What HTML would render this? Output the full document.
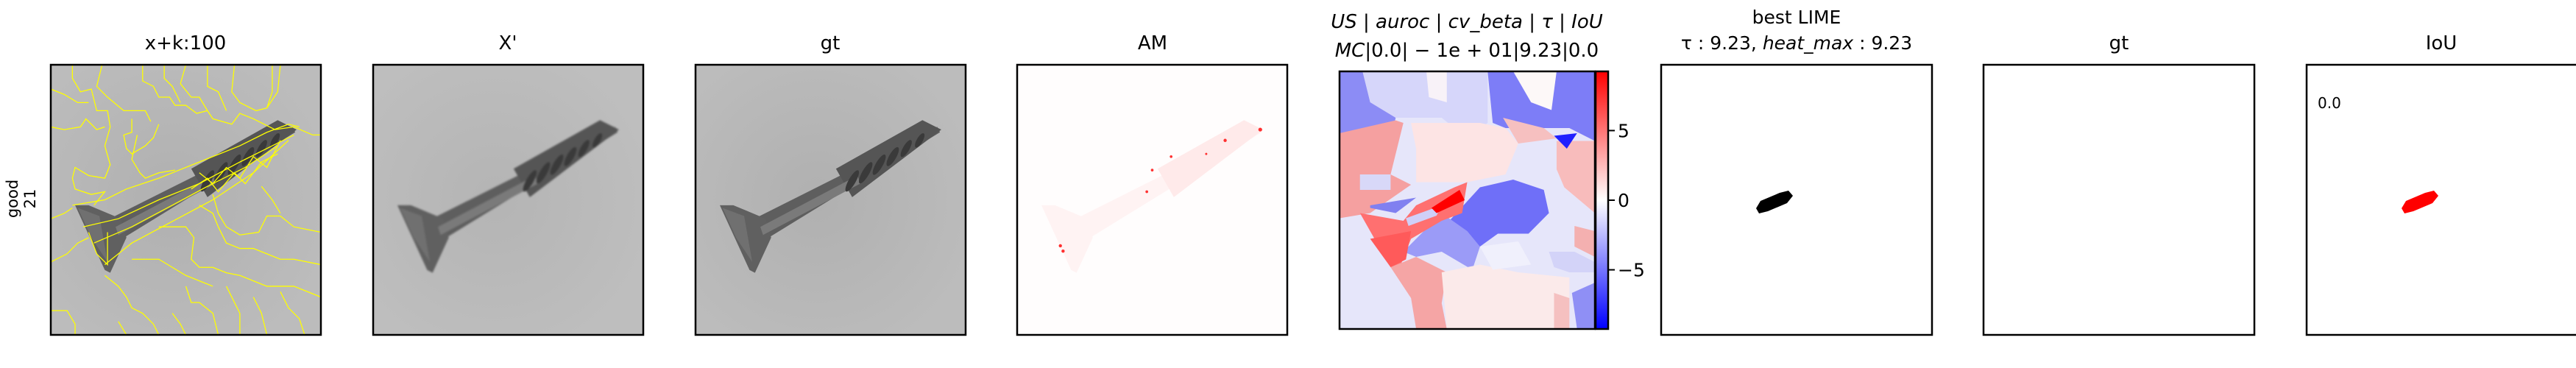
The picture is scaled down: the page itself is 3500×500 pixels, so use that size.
<!DOCTYPE html>
<html><head><meta charset="utf-8"><style>
html,body{margin:0;padding:0;background:#fff;width:3500px;height:500px;overflow:hidden}
svg text{font-family:"DejaVu Sans","Liberation Sans",sans-serif;fill:#000}
</style></head><body>
<svg id="fig" width="3500" height="500" viewBox="0 0 3500 500" xmlns="http://www.w3.org/2000/svg">
<defs>
<linearGradient id="cbar" x1="0" y1="1" x2="0" y2="0">
<stop offset="0" stop-color="#0000ff"/><stop offset="0.5" stop-color="#ffffff"/><stop offset="1" stop-color="#ff0000"/>
</linearGradient>
<radialGradient id="shade" cx="0.45" cy="0.5" r="0.6"><stop offset="0" stop-color="#a9a9a9"/><stop offset="1" stop-color="#bdbdbd"/></radialGradient>
<symbol id="screw" viewBox="0 0 100 100" preserveAspectRatio="none">
<polygon points="17.8,59 89.5,23 90.5,25 22.2,67" fill="#5e5e5e"/>
<polygon points="52,38.5 84,20.5 91,24 58,49" fill="#555"/>
<polygon points="9,52 14,52 26,57 28,64 22,77 20,76" fill="#606060"/>
<polygon points="10,53 18,56 21,73 15,64" fill="#707070"/>
<polygon points="24,60 60,41 61,44 25,63" fill="#7a7a7a"/>
<g fill="#3a3a3a">
<ellipse cx="58" cy="43" rx="1.3" ry="4.5" transform="rotate(30 58 43)"/>
<ellipse cx="63" cy="40" rx="1.3" ry="4.5" transform="rotate(30 63 40)"/>
<ellipse cx="68" cy="37" rx="1.3" ry="4.3" transform="rotate(30 68 37)"/>
<ellipse cx="73" cy="34" rx="1.3" ry="4" transform="rotate(30 73 34)"/>
<ellipse cx="78" cy="31" rx="1.2" ry="3.6" transform="rotate(30 78 31)"/>
<ellipse cx="83" cy="28" rx="1.1" ry="3" transform="rotate(30 83 28)"/>
</g>
</symbol>
</defs>

<text transform="translate(24,270) rotate(-90)" font-size="21" text-anchor="middle">good</text>
<text transform="translate(48,270) rotate(-90)" font-size="21" text-anchor="middle">21</text>

<g>
<text x="252" y="67" font-size="26" text-anchor="middle">x+k:100</text>
<svg x="69" y="88" width="367" height="367" viewBox="0 0 100 100" preserveAspectRatio="none">
<rect width="100" height="100" fill="#bababa"/>
<rect width="100" height="100" fill="url(#shade)" opacity="0.6"/>
<use href="#screw" width="100" height="100"/>
<g fill="none" stroke="#ffff00" stroke-width="0.35">
<polyline points="8,0 8,5 11,10 15,9 17,17 21,17 22,23"/>
<polyline points="19,0 17,8 21,12 27,17 35,17 37,21"/>
<polyline points="0,9 5,11 10,14 14,14"/>
<polyline points="34,0 34,6 38,8 40,12 44,12 46,15 50,15 54,18 58,17 60,20 67,22 70,18 75,20 83,24 90,23 97,26 100,26"/>
<polyline points="42,0 42,5 45,8 48,14"/>
<polyline points="50,0 48,7 52,12 55,12 58,17"/>
<polyline points="58,0 58,8 62,10 65,17"/>
<polyline points="68,0 67,10 70,14 76,17 80,16 82,10 82,0"/>
<polyline points="85,0 84,10 80,16"/>
<polyline points="0,23 5,24 11,23 13,20 17,24 20,23"/>
<polyline points="22,23 20,30 22,37 20,42 14,41 9,38 8,42 9,46 15,48 20,47 16,52"/>
<polyline points="30,20 30,25 27,26 28,31 30,33 35,30 38,27 40,22"/>
<polyline points="32,26 30,35 33,40 35,42 40,40 46,39"/>
<polyline points="0,57 5,55 8,53"/>
<polyline points="0,73 6,70 10,66 14,64"/>
<polyline points="55,52 60,55 62,60 65,66 70,68 75,68 80,70 85,72 90,72 100,74"/>
<polyline points="40,60 50,60 53,64 52,72 55,75 60,75 65,77 70,78 75,80 80,82 90,82 100,86"/>
<polyline points="30,72 40,72 45,75 50,78 55,80 60,82"/>
<polyline points="60,48 62,55 65,60 70,63 77,62 80,56 85,56 90,60 100,62"/>
<polyline points="78,45 82,50 85,55"/>
<polyline points="20,78 25,82 28,86 30,90 34,92 38,96 40,100"/>
<polyline points="25,95 28,100"/>
<polyline points="0,91 6,91 9,96 9,100"/>
<polyline points="45,92 48,96 50,100"/>
<polyline points="55,88 60,92 62,100"/>
<polyline points="65,82 68,88 70,92 70,100"/>
<polyline points="75,86 78,92 80,100"/>
<polyline points="85,84 88,90 92,94 94,100"/>
<polyline points="50,82 52,88 55,88"/>
<polyline points="8,52 20,50 28,46 40,42 50,38 60,34 70,30 80,25 88,22 92,23"/>
<polyline points="12,60 25,57 40,50 55,44 70,36 82,30 90,26"/>
<polyline points="16,66 30,60 45,52 58,45 72,38 84,30"/>
<polyline points="20,74 30,66 45,58 60,50 75,40 88,28"/>
<polyline points="14,62 17,70 21,74 21,62"/>
<polyline points="55,40 60,44 65,38 70,42 75,34 80,38 85,28"/>
<polyline points="52,46 58,42 62,47 68,40 72,44 78,36 84,33"/>
</g>
</svg>
<rect x="69" y="88" width="367" height="367" fill="none" stroke="#000" stroke-width="2.5"/>
</g>

<g>
<text x="690" y="67" font-size="26" text-anchor="middle">X'</text>
<svg x="507" y="88" width="367" height="367" viewBox="0 0 100 100" preserveAspectRatio="none">
<rect width="100" height="100" fill="#bfbfbf"/>
<rect width="100" height="100" fill="url(#shade)" opacity="0.5"/>
<use href="#screw" width="100" height="100" style="filter:blur(0.35px)"/>
</svg>
<rect x="507" y="88" width="367" height="367" fill="none" stroke="#000" stroke-width="2.5"/>
</g>

<g>
<text x="1128" y="67" font-size="26" text-anchor="middle">gt</text>
<svg x="945" y="88" width="367" height="367" viewBox="0 0 100 100" preserveAspectRatio="none">
<rect width="100" height="100" fill="#bababa"/>
<rect width="100" height="100" fill="url(#shade)" opacity="0.6"/>
<use href="#screw" width="100" height="100"/>
</svg>
<rect x="945" y="88" width="367" height="367" fill="none" stroke="#000" stroke-width="2.5"/>
</g>

<g>
<text x="1566" y="67" font-size="26" text-anchor="middle">AM</text>
<svg x="1382" y="88" width="367" height="367" viewBox="0 0 100 100" preserveAspectRatio="none">
<rect width="100" height="100" fill="#fffdfd"/>
<polygon points="17.8,59 89.5,23 90.5,25 22.2,67" fill="#fff3f3"/>
<polygon points="52,38.5 84,20.5 91,24 58,49" fill="#ffeaea"/>
<polygon points="9,52 14,52 26,57 28,64 22,77 20,76" fill="#fff3f3"/>
<g fill="#ff3030">
<circle cx="16" cy="67" r="0.6"/><circle cx="17" cy="69" r="0.6"/><circle cx="77" cy="28" r="0.6"/>
<circle cx="90" cy="24" r="0.7"/><circle cx="57" cy="34" r="0.5"/><circle cx="50" cy="39" r="0.5"/>
<circle cx="48" cy="47" r="0.5"/><circle cx="70" cy="33" r="0.4"/>
</g>
</svg>
<rect x="1382" y="88" width="367" height="367" fill="none" stroke="#000" stroke-width="2.5"/>
</g>

<g>
<text x="1993" y="38" font-size="26" text-anchor="middle" font-style="italic">US | auroc | cv_beta | τ | IoU</text>
<text x="1993" y="77" font-size="26" text-anchor="middle"><tspan font-style="italic">MC</tspan>|0.0| − 1e + 01|9.23|0.0</text>
<svg x="1820" y="97" width="347" height="350" viewBox="0 0 100 100" preserveAspectRatio="none">
<rect width="100" height="100" fill="#e6e6fa"/>
<polygon points="9,0 58,0 58,20 50,26 40,18 22,18 12,12" fill="#d6d6fa"/>
<polygon points="0,0 9,0 12,12 22,18 21,22 0,24" fill="#8c8cf5"/>
<polygon points="58,0 100,0 100,27 90,22 65,22 60,20" fill="#7d7df7"/>
<polygon points="68,0 85,0 83,15 75,12" fill="#fdf8f8"/>
<polygon points="34,0 42,0 42,12 35,10" fill="#f8f2f8"/>
<polygon points="0,24 22,19 25,20 20,40 28,44 12,55 0,57" fill="#f5a0a0"/>
<polygon points="8,40 20,40 20,46 8,46" fill="#d8d8f8"/>
<polygon points="28,20 55,20 65,22 70,28 65,40 50,43 30,43 30,30" fill="#fde4e4"/>
<polygon points="64,18 80,22 85,26 70,28" fill="#f6c0c0"/>
<polygon points="85,27 100,27 100,55 88,45 85,38" fill="#f8bcbc"/>
<polygon points="84,25 93,24 89,30" fill="#2020ff"/>
<polygon points="43,58 55,45 68,42 80,46 82,55 74,63 62,63 55,68 45,62" fill="#6f6ff8"/>
<polygon points="25,70 40,55 50,62 55,68 52,77 40,70 30,72" fill="#9b9bf7"/>
<polygon points="8,55 25,58 30,52 45,45 50,43 48,55 40,58 28,65 24,75 20,76" fill="#ff7070"/>
<polygon points="12,65 28,62 26,73 20,76" fill="#ff5a5a"/>
<polygon points="12,52 30,49 22,55 12,53" fill="#8080f0"/>
<polygon points="26,57 40,52 38,56 27,60" fill="#d0d0f8"/>
<polygon points="36,53 47,46 49,50 38,55" fill="#ff0000"/>
<polygon points="20,76 30,72 42,78 40,90 42,100 30,100 28,88" fill="#f5a5a5"/>
<polygon points="40,78 55,75 70,78 90,80 90,100 42,100" fill="#fbeaea"/>
<polygon points="55,68 70,66 75,75 60,77" fill="#f0f0fc"/>
<polygon points="82,70 92,70 100,74 100,78 90,78 84,76" fill="#d3d3f8"/>
<polygon points="92,60 100,62 100,72 92,68" fill="#f4b0b0"/>
<polygon points="91,86 100,82 100,100 93,100" fill="#8f8ff5"/>
<polygon points="84,86 90,88 90,100 84,100" fill="#f5c0c0"/>
</svg>
<rect x="1820" y="97" width="347" height="350" fill="none" stroke="#000" stroke-width="2.5"/>
<g id="colorbar">
<rect x="2168" y="97" width="17" height="350" fill="url(#cbar)" stroke="#000" stroke-width="2.5"/>
</g>
</g>

<g>
<text x="2441" y="32" font-size="25" text-anchor="middle">best LIME</text>
<text x="2441" y="67" font-size="25" text-anchor="middle">τ : 9.23, <tspan font-style="italic">heat_max</tspan> : 9.23</text>
<rect x="2257" y="88" width="368" height="367" fill="#fff" stroke="#000" stroke-width="2.5"/>
<polygon points="2386,283 2392,273 2418,262 2430,259 2436,266 2428,276 2402,287 2390,290" fill="#000"/>
</g>

<g>
<text x="2879" y="67" font-size="26" text-anchor="middle">gt</text>
<rect x="2695" y="88" width="368" height="367" fill="#fff" stroke="#000" stroke-width="2.5"/>
</g>

<g>
<text x="3317" y="67" font-size="26" text-anchor="middle">IoU</text>
<rect x="3134" y="88" width="368" height="367" fill="#fff" stroke="#000" stroke-width="2.5"/>
<text x="3149" y="147" font-size="20">0.0</text>
<polygon points="3263,283 3269,273 3295,262 3307,259 3313,266 3305,276 3279,287 3267,290" fill="#ff0000"/>
</g>
</svg>
<script>
const cbTicks = [5, 0, -5];
const cbTickLabels = ["5", "0", "\u22125"];
const cbMin = -9.25, cbMax = 9.25;
(function(){
  const top = 97, h = 350, x = 2185;
  const yScale = v => top + (cbMax - v) / (cbMax - cbMin) * h;
  const g = document.getElementById('colorbar');
  const ns = 'http://www.w3.org/2000/svg';
  cbTicks.forEach((v, i) => {
    const y = yScale(v);
    const ln = document.createElementNS(ns, 'line');
    ln.setAttribute('x1', x); ln.setAttribute('x2', x + 9);
    ln.setAttribute('y1', y); ln.setAttribute('y2', y);
    ln.setAttribute('stroke', '#000'); ln.setAttribute('stroke-width', '2');
    
    
    g.appendChild(ln);
    const t = document.createElementNS(ns, 'text');
    t.setAttribute('x', x + 13); t.setAttribute('y', y + 9);
    t.setAttribute('font-size', '25');
    t.textContent = cbTickLabels[i];
    
    
    g.appendChild(t);
  });
})();
</script>
</body></html>
